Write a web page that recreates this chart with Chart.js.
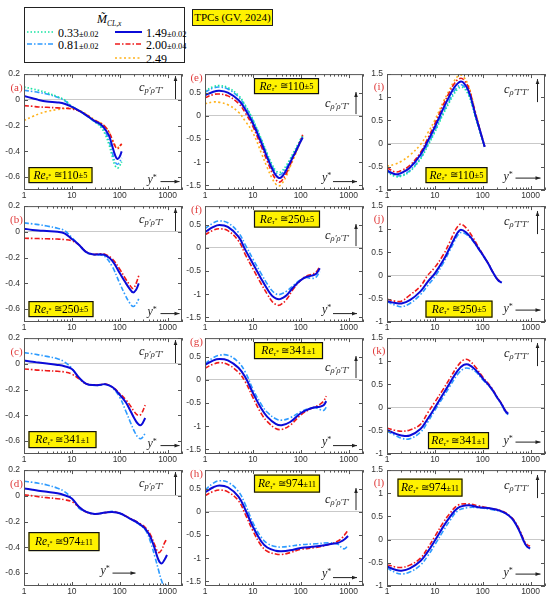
<!DOCTYPE html>
<html>
<head>
<meta charset="utf-8">
<script src="https://cdn.jsdelivr.net/npm/chart.js@4.4.1/dist/chart.umd.min.js"></script>
<style>
  body { margin: 0; background: #fff; width: 550px; height: 597px; position: relative; overflow: hidden; font-family: 'Liberation Serif', serif; }
  canvas { position: absolute; }
  .abs { position: absolute; white-space: nowrap; }
  #legend { position: absolute; left: 24px; top: 7px; width: 159px; height: 54px; border: 1.5px solid #222; }
  #tpc { position: absolute; left: 192px; top: 9px; width: 79px; height: 15px; border: 1px solid #222; background: #fff200;
         font: 11px 'Liberation Serif', serif; text-align: center; line-height: 15px; white-space: nowrap; }
</style>
</head>
<body>
<div id="legend"></div>
<div id="tpc">TPCs (GV, 2024)</div>
<script>
// legend labels (Mach number of each case)
var machMain = ['0.33', '0.81', '1.49', '2.00', '2.49'];
var machErr = ['±0.02', '±0.02', '±0.02', '±0.04', ''];
var reTau = ['110', '250', '341', '974'];
var reErr = ['±5', '±5', '±1', '±11'];
var xTickVals = [1, 10, 100, 1000];
var xTickLabels = ['1', '10', '100', '1000'];
var yTicksCol = [[-0.6, -0.4, -0.2, 0, 0.2], [-1.5, -1, -0.5, 0, 0.5], [-1, -0.5, 0, 0.5, 1, 1.5]];
var yMinCol = [-0.7, -1.6, -1];
var yMaxCol = [0.2, 0.9, 1.5];

// (a) c_p'rho'T', Re 110
var aX = [1, 1.5, 2, 3, 5, 7, 10, 15, 20, 30, 40, 50, 60, 70, 80, 90, 100, 110];
var a033 = [0.10, 0.085, 0.075, 0.055, 0.025, 0.0, -0.05, -0.09, -0.12, -0.17, -0.21, -0.27, -0.35, -0.44, -0.51, -0.53, -0.51, -0.48];
var a081 = [0.075, 0.065, 0.058, 0.045, 0.02, -0.005, -0.05, -0.09, -0.12, -0.17, -0.20, -0.25, -0.32, -0.41, -0.48, -0.50, -0.48, -0.45];
var a149 = [0.03, 0.012, 0.0, -0.012, -0.02, -0.03, -0.055, -0.09, -0.12, -0.165, -0.19, -0.23, -0.28, -0.36, -0.43, -0.46, -0.44, -0.40];
var a200 = [-0.045, -0.05, -0.055, -0.058, -0.062, -0.065, -0.07, -0.09, -0.115, -0.16, -0.18, -0.21, -0.25, -0.31, -0.36, -0.38, -0.36, -0.34];
var a249 = [-0.16, -0.13, -0.11, -0.09, -0.075, -0.068, -0.065, -0.085, -0.11, -0.155, -0.18, -0.21, -0.25, -0.31, -0.35, -0.37, -0.36, -0.35];

// (b) Re 250
var bX = [1, 1.5, 2, 3, 5, 7, 10, 14, 20, 28, 40, 50, 70, 100, 130, 160, 190, 220, 250];
var b081 = [0.07, 0.062, 0.056, 0.045, 0.028, 0.01, -0.045, -0.10, -0.16, -0.178, -0.18, -0.195, -0.27, -0.40, -0.49, -0.55, -0.58, -0.56, -0.52];
var b149 = [0.025, 0.015, 0.01, 0.006, 0.0, -0.012, -0.055, -0.10, -0.158, -0.175, -0.175, -0.18, -0.225, -0.32, -0.39, -0.44, -0.47, -0.45, -0.40];
var b200 = [-0.05, -0.051, -0.052, -0.054, -0.056, -0.06, -0.07, -0.10, -0.155, -0.175, -0.17, -0.175, -0.21, -0.29, -0.36, -0.41, -0.44, -0.40, -0.34];

// (c) Re 341
var cX = [1, 1.5, 2, 3, 5, 7, 10, 14, 20, 30, 40, 50, 70, 100, 135, 170, 200, 240, 280, 341];
var c081 = [0.087, 0.078, 0.07, 0.058, 0.04, 0.015, -0.035, -0.11, -0.155, -0.168, -0.165, -0.16, -0.185, -0.26, -0.37, -0.46, -0.52, -0.57, -0.58, -0.54];
var c149 = [0.026, 0.016, 0.01, 0.002, -0.008, -0.018, -0.04, -0.105, -0.155, -0.165, -0.162, -0.158, -0.18, -0.24, -0.30, -0.37, -0.42, -0.465, -0.475, -0.42];
var c200 = [-0.04, -0.045, -0.049, -0.053, -0.058, -0.063, -0.08, -0.115, -0.155, -0.165, -0.16, -0.157, -0.18, -0.23, -0.28, -0.33, -0.37, -0.40, -0.39, -0.32];

// (d) Re 974
var dX = [1, 1.5, 2, 3, 5, 7, 10, 14, 20, 30, 50, 70, 100, 160, 250, 350, 450, 550, 650, 750, 850, 974];
var d081 = [0.114, 0.105, 0.098, 0.085, 0.06, 0.033, -0.02, -0.095, -0.125, -0.14, -0.13, -0.12, -0.135, -0.175, -0.22, -0.27, -0.37, -0.48, -0.58, -0.66, -0.70, -0.69];
var d149 = [0.058, 0.047, 0.04, 0.032, 0.02, 0.005, -0.02, -0.085, -0.125, -0.14, -0.13, -0.125, -0.135, -0.175, -0.215, -0.26, -0.33, -0.42, -0.50, -0.525, -0.50, -0.46];
var d200 = [0.008, 0.0, -0.007, -0.014, -0.022, -0.03, -0.045, -0.085, -0.125, -0.14, -0.13, -0.125, -0.135, -0.172, -0.21, -0.25, -0.31, -0.39, -0.44, -0.42, -0.37, -0.33];

// (e) c_rho'rho'T', Re 110
var eX = [1, 1.5, 2, 3, 5, 7, 10, 15, 20, 25, 30, 35, 40, 50, 60, 70, 85, 100, 110];
var e033 = [0.54, 0.63, 0.65, 0.61, 0.44, 0.22, -0.08, -0.50, -0.82, -1.04, -1.18, -1.22, -1.20, -1.07, -0.93, -0.80, -0.64, -0.50, -0.43];
var e081 = [0.51, 0.60, 0.62, 0.58, 0.41, 0.20, -0.10, -0.52, -0.85, -1.08, -1.22, -1.27, -1.25, -1.12, -0.97, -0.84, -0.67, -0.52, -0.45];
var e149 = [0.44, 0.52, 0.54, 0.50, 0.34, 0.13, -0.16, -0.58, -0.90, -1.13, -1.28, -1.34, -1.32, -1.17, -1.01, -0.87, -0.70, -0.55, -0.47];
var e200 = [0.39, 0.46, 0.47, 0.43, 0.27, 0.06, -0.23, -0.66, -0.98, -1.22, -1.37, -1.43, -1.40, -1.24, -1.06, -0.90, -0.70, -0.52, -0.41];
var e249 = [0.26, 0.30, 0.29, 0.24, 0.08, -0.12, -0.36, -0.80, -1.12, -1.34, -1.47, -1.51, -1.47, -1.30, -1.10, -0.94, -0.73, -0.55, -0.44];

// (f) Re 250
var fX = [1, 1.5, 2, 3, 5, 7, 10, 15, 20, 25, 30, 35, 40, 50, 70, 100, 130, 170, 210, 250];
var f081 = [0.41, 0.54, 0.58, 0.54, 0.33, 0.06, -0.24, -0.56, -0.78, -0.92, -0.99, -1.01, -0.99, -0.94, -0.81, -0.69, -0.64, -0.66, -0.63, -0.51];
var f149 = [0.34, 0.45, 0.49, 0.45, 0.24, -0.05, -0.34, -0.67, -0.89, -1.03, -1.09, -1.11, -1.09, -1.03, -0.85, -0.70, -0.63, -0.60, -0.56, -0.44];
var f200 = [0.28, 0.38, 0.41, 0.37, 0.15, -0.15, -0.45, -0.78, -1.00, -1.15, -1.22, -1.24, -1.21, -1.12, -0.89, -0.70, -0.61, -0.57, -0.52, -0.40];

// (g) Re 341
var gX = [1, 1.5, 2, 3, 5, 7, 10, 15, 20, 30, 40, 60, 100, 150, 200, 250, 300, 341];
var g081 = [0.35, 0.48, 0.53, 0.53, 0.38, 0.16, -0.20, -0.53, -0.70, -0.84, -0.87, -0.82, -0.69, -0.62, -0.60, -0.64, -0.66, -0.59];
var g149 = [0.32, 0.42, 0.45, 0.42, 0.26, 0.05, -0.28, -0.62, -0.80, -0.95, -0.98, -0.91, -0.72, -0.63, -0.59, -0.58, -0.55, -0.46];
var g200 = [0.25, 0.34, 0.37, 0.33, 0.16, -0.05, -0.38, -0.73, -0.90, -1.05, -1.07, -0.98, -0.76, -0.64, -0.58, -0.53, -0.46, -0.35];

// (h) Re 974
var hX = [1, 1.5, 2, 3, 5, 7, 10, 15, 20, 30, 40, 60, 100, 200, 400, 600, 750, 850, 974];
var h081 = [0.47, 0.62, 0.67, 0.64, 0.44, 0.15, -0.23, -0.55, -0.68, -0.75, -0.76, -0.74, -0.71, -0.69, -0.67, -0.70, -0.79, -0.79, -0.71];
var h149 = [0.42, 0.53, 0.57, 0.53, 0.33, 0.04, -0.32, -0.64, -0.77, -0.84, -0.85, -0.83, -0.78, -0.75, -0.70, -0.67, -0.62, -0.58, -0.52];
var h200 = [0.35, 0.44, 0.47, 0.43, 0.24, -0.06, -0.41, -0.73, -0.85, -0.91, -0.92, -0.88, -0.81, -0.77, -0.70, -0.63, -0.55, -0.48, -0.39];

// (i) c_rho'T'T', Re 110
var iX = [1, 1.5, 2, 3, 5, 7, 10, 15, 20, 25, 30, 35, 40, 50, 60, 70, 85, 100, 110];
var i033 = [-0.61, -0.71, -0.70, -0.60, -0.33, -0.06, 0.25, 0.64, 0.89, 1.07, 1.18, 1.22, 1.20, 1.06, 0.83, 0.58, 0.29, 0.06, -0.08];
var i081 = [-0.60, -0.69, -0.68, -0.58, -0.31, -0.03, 0.28, 0.68, 0.93, 1.12, 1.23, 1.27, 1.24, 1.10, 0.86, 0.60, 0.30, 0.06, -0.08];
var i149 = [-0.58, -0.66, -0.63, -0.52, -0.24, 0.04, 0.36, 0.76, 1.02, 1.20, 1.30, 1.34, 1.31, 1.15, 0.90, 0.63, 0.33, 0.08, -0.07];
var i200 = [-0.52, -0.61, -0.58, -0.47, -0.19, 0.10, 0.43, 0.84, 1.10, 1.28, 1.38, 1.41, 1.38, 1.22, 0.95, 0.66, 0.34, 0.08, -0.06];
var i249 = [-0.49, -0.44, -0.38, -0.25, -0.02, 0.22, 0.51, 0.90, 1.15, 1.34, 1.45, 1.48, 1.44, 1.26, 0.98, 0.69, 0.36, 0.09, -0.05];

// (j) Re 250
var jX = [1, 1.5, 2, 3, 5, 7, 10, 15, 20, 25, 30, 35, 45, 60, 80, 100, 130, 170, 210, 250];
var j081 = [-0.56, -0.64, -0.67, -0.60, -0.41, -0.22, -0.02, 0.27, 0.52, 0.72, 0.87, 0.93, 0.89, 0.77, 0.59, 0.44, 0.26, 0.04, -0.10, -0.15];
var j149 = [-0.55, -0.59, -0.60, -0.53, -0.34, -0.14, 0.05, 0.33, 0.58, 0.78, 0.93, 0.99, 0.93, 0.79, 0.60, 0.45, 0.26, 0.04, -0.10, -0.15];
var j200 = [-0.51, -0.55, -0.55, -0.42, -0.23, 0.0, 0.18, 0.45, 0.70, 0.92, 1.06, 1.11, 1.03, 0.85, 0.63, 0.46, 0.27, 0.04, -0.09, -0.13];

// (k) Re 341
var kX = [1, 1.5, 2, 3, 5, 7, 10, 15, 20, 30, 40, 50, 70, 100, 150, 200, 250, 300, 341];
var k081 = [-0.51, -0.60, -0.66, -0.67, -0.53, -0.32, -0.06, 0.23, 0.44, 0.72, 0.84, 0.85, 0.78, 0.60, 0.41, 0.21, 0.06, -0.10, -0.15];
var k149 = [-0.48, -0.56, -0.60, -0.60, -0.46, -0.25, 0.0, 0.30, 0.51, 0.80, 0.92, 0.93, 0.82, 0.63, 0.42, 0.22, 0.07, -0.08, -0.13];
var k200 = [-0.44, -0.49, -0.51, -0.48, -0.36, -0.12, 0.12, 0.40, 0.61, 0.90, 1.03, 1.03, 0.88, 0.66, 0.44, 0.23, 0.08, -0.07, -0.11];

// (l) Re 974
var lX = [1, 1.5, 2, 3, 5, 7, 10, 15, 20, 30, 50, 80, 150, 250, 350, 450, 600, 750, 850, 974];
var l081 = [-0.61, -0.71, -0.74, -0.70, -0.55, -0.36, -0.11, 0.19, 0.39, 0.62, 0.69, 0.69, 0.65, 0.60, 0.52, 0.40, 0.16, -0.08, -0.16, -0.20];
var l149 = [-0.58, -0.65, -0.67, -0.62, -0.46, -0.27, -0.02, 0.28, 0.47, 0.68, 0.74, 0.70, 0.67, 0.61, 0.52, 0.40, 0.16, -0.07, -0.15, -0.19];
var l200 = [-0.54, -0.59, -0.60, -0.55, -0.40, -0.19, 0.07, 0.37, 0.55, 0.74, 0.77, 0.73, 0.67, 0.62, 0.53, 0.42, 0.19, -0.04, -0.11, -0.14];

// line look of each Mach case
var lineColor = ['#17e3a2', '#2e9bff', '#0b0bd8', '#ee1a1a', '#ffb21c'];
var lineDash = [[1.5, 2], [5, 2, 1.5, 2], [], [5, 2, 1.5, 2], [2, 2.5]];
var lineWidth = [1.7, 1.6, 2, 1.6, 1.6];
var lineOrder = [2, 3, 0, 1, 4];

var SERIF = "'Liberation Serif', serif";
var colLabel = ['p\u2032\u03c1\u2032T\u2032', '\u03c1\u2032\u03c1\u2032T\u2032', '\u03c1\u2032T\u2032T\u2032'];

var panels = [
  { id: 'a', col: 0, row: 0, x: aX, ys: [a033, a081, a149, a200, a249], box: [4.5, 93, 64, 16] },
  { id: 'b', col: 0, row: 1, x: bX, ys: [null, b081, b149, b200, null], box: [4.5, 95, 65, 16] },
  { id: 'c', col: 0, row: 2, x: cX, ys: [null, c081, c149, c200, null], box: [4.5, 93, 68, 17] },
  { id: 'd', col: 0, row: 3, x: dX, ys: [null, d081, d149, d200, null], box: [4.5, 62, 71, 19], ystar: [76.5, 101, 88.5, 111.5, 103] },
  { id: 'e', col: 1, row: 0, x: eX, ys: [e033, e081, e149, e200, e249], box: [49, 4, 65, 16] },
  { id: 'f', col: 1, row: 1, x: fX, ys: [null, f081, f149, f200, null], box: [49, 4.5, 66, 17] },
  { id: 'g', col: 1, row: 2, x: gX, ys: [null, g081, g149, g200, null], box: [49, 4, 69, 17] },
  { id: 'h', col: 1, row: 3, x: hX, ys: [null, h081, h149, h200, null], box: [49, 4.5, 66, 18] },
  { id: 'i', col: 2, row: 0, x: iX, ys: [i033, i081, i149, i200, i249], box: [38.5, 93, 62, 16] },
  { id: 'j', col: 2, row: 1, x: jX, ys: [null, j081, j149, j200, null], box: [38.5, 94.5, 67, 17] },
  { id: 'k', col: 2, row: 2, x: kX, ys: [null, k081, k149, k200, null], box: [41, 94, 61, 17] },
  { id: 'l', col: 2, row: 3, x: lX, ys: [null, l081, l149, l200, null], box: [10.5, 8.5, 65, 18] }
];

var plotLeft = [24, 205, 387];
var plotTop = [73, 205, 337, 469];
var PW = 158, PH = 117;
var cText = [[115, 14, 151.5, 25, 2], [120, 30, 151, 40, 18], [117, 16, 150.5, 28, 5]];
var yStar = [[123.5, 106, 136.5, 155.5, 107.5], [117, 104, 128, 152, 107.5], [116.5, 103, 128.5, 153.5, 104]];

function runsWidth(ctx, runs) {
  var w = 0;
  runs.forEach(function (r) { ctx.font = r.f; w += ctx.measureText(r.t).width; });
  return w;
}
function drawRuns(ctx, x, y, runs) {
  var cx = x;
  runs.forEach(function (r) {
    ctx.font = r.f;
    ctx.fillText(r.t, cx, y + (r.dy || 0));
    cx += ctx.measureText(r.t).width;
  });
}
function arrow(ctx, x0, y0, x1, y1) {
  ctx.beginPath(); ctx.moveTo(x0, y0); ctx.lineTo(x1, y1); ctx.stroke();
  var a = Math.atan2(y1 - y0, x1 - x0);
  ctx.beginPath();
  ctx.moveTo(x1, y1);
  ctx.lineTo(x1 - 5 * Math.cos(a) + 1.8 * Math.sin(a), y1 - 5 * Math.sin(a) - 1.8 * Math.cos(a));
  ctx.lineTo(x1 - 5 * Math.cos(a) - 1.8 * Math.sin(a), y1 - 5 * Math.sin(a) + 1.8 * Math.cos(a));
  ctx.closePath(); ctx.fill();
}

var framePlugin = {
  id: 'frame',
  afterDraw: function (chart) {
    var ctx = chart.ctx, ca = chart.chartArea, xs = chart.scales.x, ys = chart.scales.y;
    var p = chart.config.options.panel;
    ctx.save();
    ctx.strokeStyle = '#555'; ctx.lineWidth = 1;
    ctx.strokeRect(ca.left + 0.5, ca.top + 0.5, ca.right - ca.left - 1, ca.bottom - ca.top - 1);
    ctx.beginPath();
    for (var d = 0; d < 4; d++) {
      for (var m = 1; m < 10; m++) {
        var v = m * Math.pow(10, d);
        if (v > xs.max) continue;
        var px = Math.round(xs.getPixelForValue(v)) + 0.5;
        var len = m === 1 ? 4 : 2.5;
        ctx.moveTo(px, ca.bottom); ctx.lineTo(px, ca.bottom - len);
        ctx.moveTo(px, ca.top); ctx.lineTo(px, ca.top + len);
      }
    }
    ys.ticks.forEach(function (t) {
      var py = Math.round(ys.getPixelForValue(t.value)) + 0.5;
      ctx.moveTo(ca.left, py); ctx.lineTo(ca.left + 4, py);
      ctx.moveTo(ca.right, py); ctx.lineTo(ca.right - 4, py);
    });
    ctx.stroke();

    var L = ca.left, T = ca.top;
    ctx.textBaseline = 'middle';
    // panel letter
    ctx.fillStyle = '#e03a3a';
    ctx.font = '11px ' + SERIF;
    ctx.textAlign = 'center';
    var lp = p.col === 0 ? [-7.5, 14] : (p.col === 1 ? [-8.5, 4] : [-8, 13]);
    ctx.fillText('(' + p.id + ')', L + lp[0], T + lp[1]);
    ctx.textAlign = 'left';

    // Re box
    var b = p.box;
    ctx.fillStyle = '#fff200';
    ctx.fillRect(L + b[0], T + b[1], b[2], b[3]);
    ctx.strokeStyle = '#111'; ctx.lineWidth = 1.2;
    ctx.strokeRect(L + b[0] + 0.5, T + b[1] + 0.5, b[2] - 1, b[3] - 1);
    ctx.fillStyle = '#000';
    var runs = [
      { t: 'Re', f: 'italic 11.5px ' + SERIF },
      { t: '\u03c4', f: 'italic 7px ' + SERIF, dy: 3 },
      { t: '*', f: '6px ' + SERIF, dy: 1 },
      { t: ' \u2245', f: '10px ' + SERIF },
      { t: reTau[p.row], f: '11.5px ' + SERIF },
      { t: reErr[p.row], f: '8.5px ' + SERIF, dy: 0.5 }
    ];
    var w = runsWidth(ctx, runs);
    drawRuns(ctx, L + b[0] + (b[2] - w) / 2, T + b[1] + b[3] / 2 + 0.5, runs);

    // quantity label with vertical arrow
    var c = cText[p.col];
    ctx.fillStyle = '#222'; ctx.strokeStyle = '#222'; ctx.lineWidth = 1;
    drawRuns(ctx, L + c[0], T + c[1], [
      { t: 'c', f: 'italic 12.5px ' + SERIF },
      { t: colLabel[p.col], f: 'italic 8.5px ' + SERIF, dy: 3 }
    ]);
    arrow(ctx, L + c[2], T + c[3], L + c[2], T + c[4]);

    // y* with horizontal arrow
    var s = p.ystar || yStar[p.col];
    drawRuns(ctx, L + s[0], T + s[1], [
      { t: 'y', f: 'italic 12px ' + SERIF },
      { t: '*', f: '8px ' + SERIF, dy: -2 }
    ]);
    arrow(ctx, L + s[2], T + s[4], L + s[3], T + s[4]);
    ctx.restore();
  }
};

function makePanel(p) {
  var cv = document.createElement('canvas');
  cv.width = PW + 32; cv.height = PH + 20;
  cv.style.left = (plotLeft[p.col] - 24) + 'px';
  cv.style.top = (plotTop[p.row] - 8) + 'px';
  document.body.appendChild(cv);
  var datasets = [];
  p.ys.forEach(function (ys, k) {
    if (!ys) return;
    datasets.push({
      label: machMain[k],
      data: p.x.map(function (x, i) { return { x: x, y: ys[i] }; }),
      borderColor: lineColor[k],
      borderDash: lineDash[k],
      borderWidth: lineWidth[k],
      pointRadius: 0,
      tension: 0.4,
      fill: false,
      order: lineOrder[k]
    });
  });
  var col = p.col;
  new Chart(cv, {
    type: 'line',
    data: { datasets: datasets },
    options: {
      panel: p,
      responsive: false,
      animation: false,
      layout: { padding: { left: 0, top: 8, right: 8, bottom: 0 } },
      plugins: { legend: { display: false }, tooltip: { enabled: false } },
      scales: {
        x: {
          type: 'logarithmic', min: 1, max: 2000,
          afterBuildTicks: function (sc) { sc.ticks = xTickVals.map(function (v) { return { value: v }; }); },
          afterFit: function (sc) { sc.height = 12; },
          ticks: {
            autoSkip: false, maxRotation: 0, padding: 1, color: '#333',
            font: { family: "'Liberation Sans', sans-serif", size: 8.5 },
            callback: function (v) { return xTickLabels[xTickVals.indexOf(v)]; }
          },
          grid: { display: false, drawTicks: false },
          border: { display: false }
        },
        y: {
          type: 'linear', min: yMinCol[col], max: yMaxCol[col],
          afterBuildTicks: function (sc) { sc.ticks = yTicksCol[col].map(function (v) { return { value: v }; }); },
          afterFit: function (sc) { sc.width = 24; },
          ticks: {
            padding: 4, color: '#333',
            font: { family: "'Liberation Sans', sans-serif", size: 8.5 },
            callback: function (v) { return String(Math.round(v * 10) / 10); }
          },
          grid: {
            drawTicks: false,
            color: function (c) { return c.tick && c.tick.value === 0 ? '#c9c9c9' : 'rgba(0,0,0,0)'; }
          },
          border: { display: false }
        }
      }
    },
    plugins: [framePlugin]
  });
}
panels.forEach(makePanel);

// legend box
var legend = document.getElementById('legend');
var legPos = [[2, 23.5], [2, 36], [90, 23.5], [90, 36], [90, 49.5]];
var title = document.createElement('div');
title.className = 'abs';
title.style.left = '72px'; title.style.top = '1px';
title.innerHTML = '<span style="font:italic 12px \'Liberation Serif\'">M\u0303</span><span style="font:italic 7.5px \'Liberation Serif\';position:relative;top:3px">CL,x</span>';
legend.appendChild(title);
machMain.forEach(function (m, k) {
  var pos = legPos[k];
  var svg = document.createElementNS('http://www.w3.org/2000/svg', 'svg');
  svg.setAttribute('width', '27'); svg.setAttribute('height', '4');
  svg.style.position = 'absolute';
  svg.style.left = pos[0] + 'px'; svg.style.top = (pos[1] - 2) + 'px';
  var ln = document.createElementNS('http://www.w3.org/2000/svg', 'line');
  ln.setAttribute('x1', 0); ln.setAttribute('x2', 27); ln.setAttribute('y1', 2); ln.setAttribute('y2', 2);
  ln.setAttribute('stroke', lineColor[k]);
  ln.setAttribute('stroke-width', lineWidth[k]);
  if (lineDash[k].length) ln.setAttribute('stroke-dasharray', lineDash[k].join(' '));
  svg.appendChild(ln);
  legend.appendChild(svg);
  var t = document.createElement('div');
  t.className = 'abs';
  t.style.left = (pos[0] + 31) + 'px'; t.style.top = (pos[1] - 8) + 'px';
  t.style.lineHeight = '16px';
  t.innerHTML = '<span style="font:12px \'Liberation Serif\'">' + m + '</span><span style="font:8.5px \'Liberation Serif\'">' + machErr[k] + '</span>';
  legend.appendChild(t);
});
</script>
</body>
</html>
